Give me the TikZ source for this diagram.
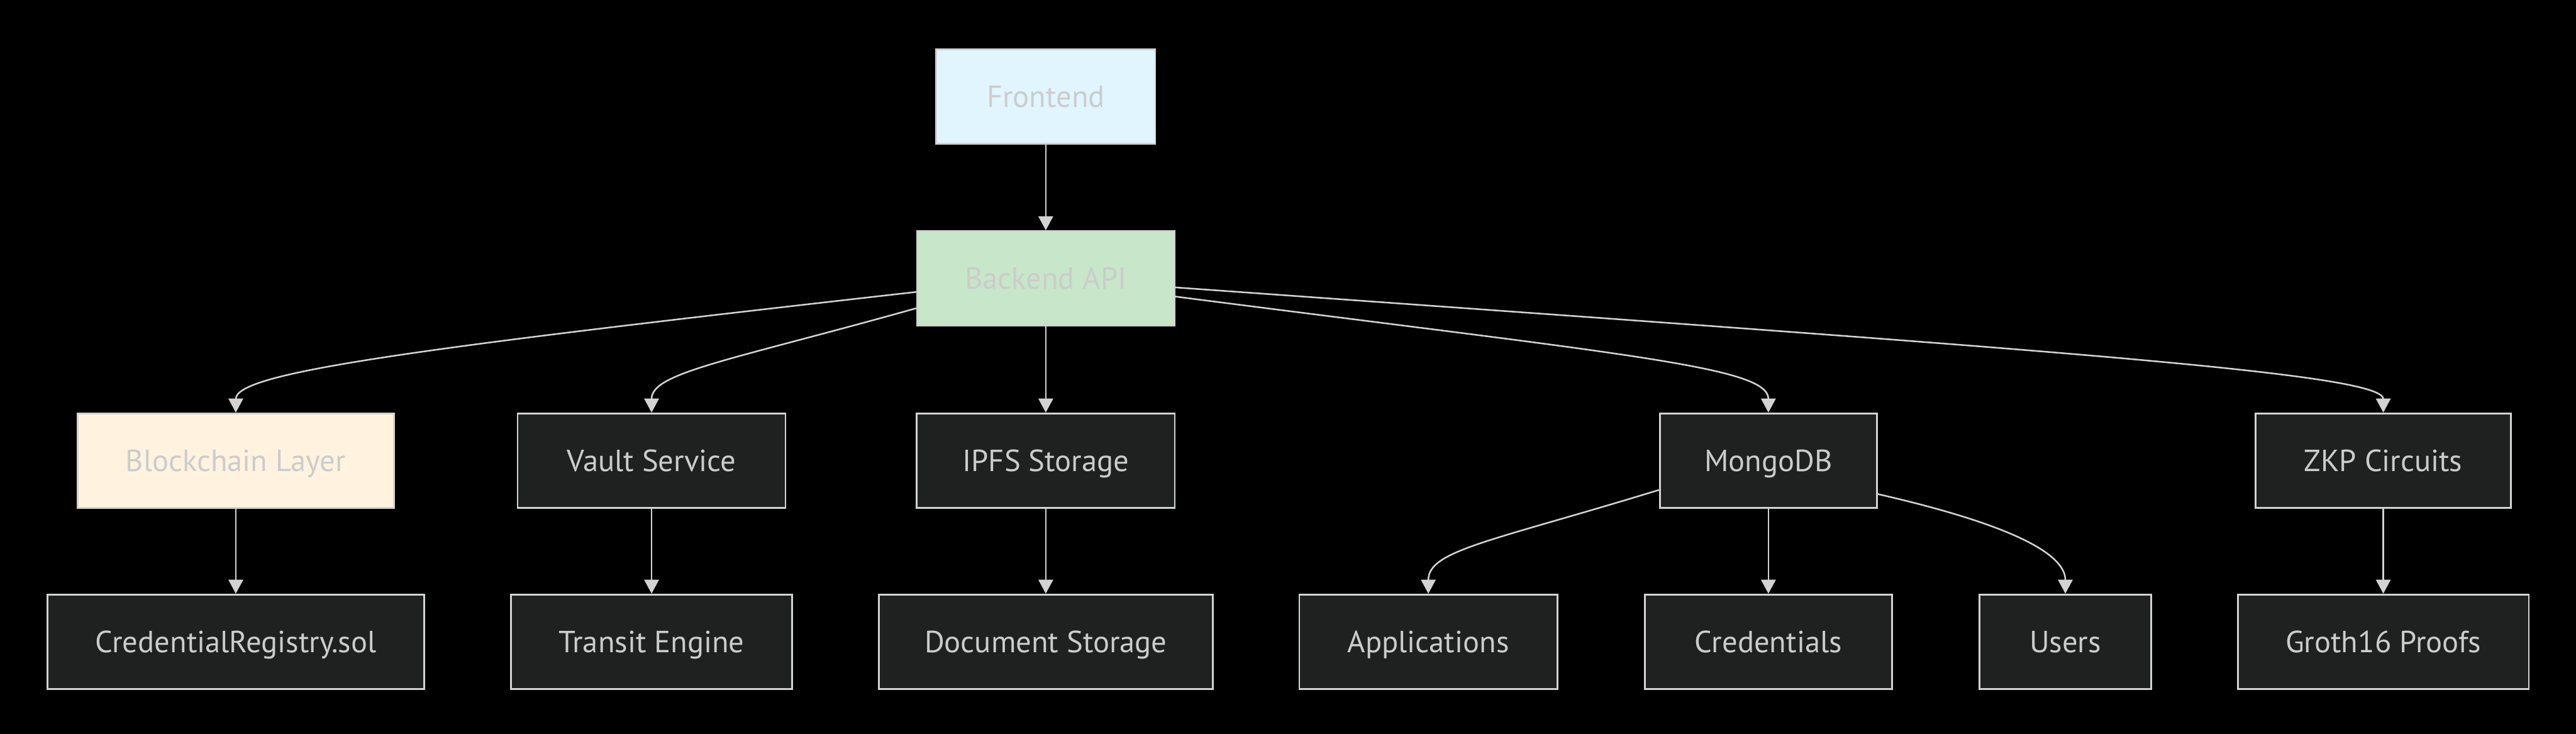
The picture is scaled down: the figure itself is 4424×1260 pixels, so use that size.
\documentclass[tikz,border=0pt]{standalone}
\usepackage{fontspec}
\setmainfont{PT Sans}
\usetikzlibrary{arrows.meta}
\definecolor{edgegray}{HTML}{D3D3D3}
\definecolor{labelgray}{HTML}{CCCCCC}
\definecolor{darkbox}{HTML}{1F2020}
\definecolor{frontblue}{HTML}{E1F5FE}
\definecolor{apigreen}{HTML}{C8E6C9}
\definecolor{chainorange}{HTML}{FFF3E0}

\begin{document}
\begin{tikzpicture}[x=0.2pt, y=-0.2pt,
    every node/.style={rectangle, draw=edgegray, line width=0.6pt, fill=darkbox, text=labelgray,
        font=\fontsize{10.5}{12}\selectfont, minimum height=32.4pt, inner sep=0pt,
        text height=7.4pt, text depth=0pt},
    link/.style={draw=edgegray, line width=0.55pt, -{Triangle[length=4.8pt, width=5pt]}}]
    \path[fill=black, draw=none] (0,0) rectangle (4424,1260);
    \useasboundingbox (0,0) rectangle (4424,1260);

    \node (front) [fill=frontblue, minimum width=75.2pt] at (1796,166) {Frontend};
    \node (api) [fill=apigreen, minimum width=88.4pt] at (1796,478) {Backend API};

    \node (chain) [fill=chainorange, minimum width=108.8pt] at (405,791) {Blockchain Layer};
    \node (vault) [minimum width=92pt] at (1119,791) {Vault Service};
    \node (ipfs) [minimum width=88.6pt] at (1796,791) {IPFS Storage};
    \node (mongo) [minimum width=74.6pt] at (3037,791) {MongoDB};
    \node (zkp) [minimum width=87.6pt] at (4093,791) {ZKP Circuits};

    \node (registry) [minimum width=129.4pt] at (405,1102) {CredentialRegistry.sol};
    \node (transit) [minimum width=96.6pt] at (1119,1102) {Transit Engine};
    \node (docs) [minimum width=114.6pt] at (1796,1102) {Document Storage};
    \node (apps) [minimum width=88.6pt] at (2453,1102) {Applications};
    \node (creds) [minimum width=85pt] at (3037,1102) {Credentials};
    \node (users) [minimum width=59pt] at (3547,1102) {Users};
    \node (groth) [minimum width=100pt] at (4093,1102) {Groth16 Proofs};

    \path (front) edge[link] (api);
    \path (api) edge[link] (ipfs);
    \draw[link] (api.186) .. controls (700,600) and (405,640) .. (chain.north);
    \draw[link] (api.193) .. controls (1250,620) and (1119,640) .. (vault.north);
    \draw[link] (api.352) .. controls (2800,610) and (3037,630) .. (mongo.north);
    \draw[link] (api.356) .. controls (3500,600) and (4093,640) .. (zkp.north);

    \path (chain) edge[link] (registry);
    \path (vault) edge[link] (transit);
    \path (ipfs) edge[link] (docs);
    \path (mongo) edge[link] (creds);
    \path (zkp) edge[link] (groth);
    \draw[link] (mongo.195) .. controls (2560,930) and (2453,945) .. (apps.north);
    \draw[link] (mongo.343) .. controls (3450,900) and (3547,950) .. (users.north);
\end{tikzpicture}
\end{document}
